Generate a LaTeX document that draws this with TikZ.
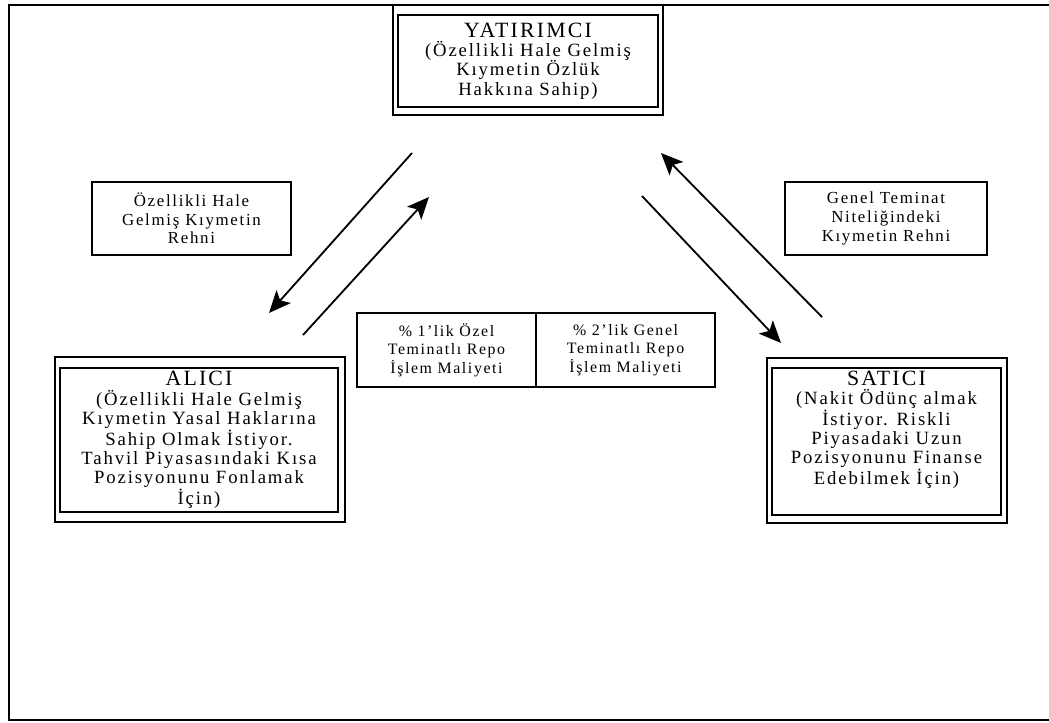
\documentclass[tikz,border=0pt]{standalone}
\usepackage{fontspec}
\setmainfont{Liberation Serif}
\newfontfamily\boxfont[LetterSpace=10]{Liberation Serif}
\usetikzlibrary{arrows.meta,positioning,calc}

\newcommand{\partyname}[1]{{\fontsize{15.5}{16.5}\selectfont #1}}

\begin{document}
\begin{tikzpicture}[
  x=0.025cm, y=-0.025cm,
  font=\boxfont\fontsize{13.3}{13.7}\selectfont,
  party/.style={
    draw,
    line width=1.3pt,
    align=center,
    inner sep=2pt,
    outer sep=0pt
  },
  shell/.style={draw, line width=0.9pt},
  note/.style={
    draw,
    line width=1pt,
    align=center,
    inner sep=2pt,
    outer sep=0pt,
    font=\boxfont\fontsize{12}{13.2}\selectfont
  },
  cost/.style={
    note,
    font=\boxfont\fontsize{11.3}{13}\selectfont,
    minimum width=4.475cm,
    minimum height=1.85cm
  },
  arrow/.style={-{Stealth[length=0.55cm, width=0.48cm, inset=0.13cm]}, line width=1.3pt}
]
\useasboundingbox (0,0) rectangle (1049,722);

% page frame
\draw[line width=2pt] (1049,5) -- (9,5) -- (9,720) -- (1049,720);

% the three parties
\node[party, minimum width=6.5cm, minimum height=2.3cm] (Y) at (528,61)
{\partyname{YATIRIMCI}\\
(Özellikli Hale Gelmiş\\
Kıymetin Özlük\\
Hakkına Sahip)};

\node[party, minimum width=6.95cm, minimum height=3.6cm] (A) at (199,440)
{\partyname{ALICI}\\
(Özellikli Hale Gelmiş\\
Kıymetin Yasal Haklarına\\
Sahip Olmak İstiyor.\\
Tahvil Piyasasındaki Kısa\\
Pozisyonunu Fonlamak\\
İçin)};

\node[party, minimum width=5.725cm, minimum height=3.625cm] (S) at (886.5,441.5)
{\partyname{SATICI}\\
(Nakit Ödünç almak\\
İstiyor. Riskli\\
Piyasadaki Uzun\\
Pozisyonunu Finanse\\
Edebilmek İçin)\\[6pt]};

\draw[shell] ($(Y.north west)+(-5,-10)$) rectangle ($(Y.south east)+(5,8)$);
\draw[shell] ($(A.north west)+(-5,-11)$) rectangle ($(A.south east)+(7,10)$);
\draw[shell] ($(S.north west)+(-5,-10)$) rectangle ($(S.south east)+(6,8)$);

% what is pledged
\node[note, minimum width=4.975cm, minimum height=1.825cm] (L) at (191.5,218.5)
{Özellikli Hale\\
Gelmiş Kıymetin\\
Rehni};

\node[note, minimum width=5.05cm, minimum height=1.825cm] (R) at (886,218.5)
{Genel Teminat\\
Niteliğindeki\\
Kıymetin Rehni};

% repo costs
\node[cost] (C1) at (446.5,350)
{\% 1’lik Özel\\
Teminatlı Repo\\
İşlem Maliyeti};
\node[cost, right=0pt of C1] (C2)
{\% 2’lik Genel\\
Teminatlı Repo\\
İşlem Maliyeti};

% flows
\coordinate (a1s) at (412,153);
\coordinate (a1e) at (269,313);
\coordinate (a2s) at (303,335);
\coordinate (a2e) at (429,197);
\coordinate (a3s) at (822,317);
\coordinate (a3e) at (661,153);
\coordinate (a4s) at (642,196);
\coordinate (a4e) at (781,343);

\draw[arrow] (a1s) -- (a1e);
\draw[arrow] (a2s) -- (a2e);
\draw[arrow] (a3s) -- (a3e);
\draw[arrow] (a4s) -- (a4e);
\end{tikzpicture}
\end{document}
